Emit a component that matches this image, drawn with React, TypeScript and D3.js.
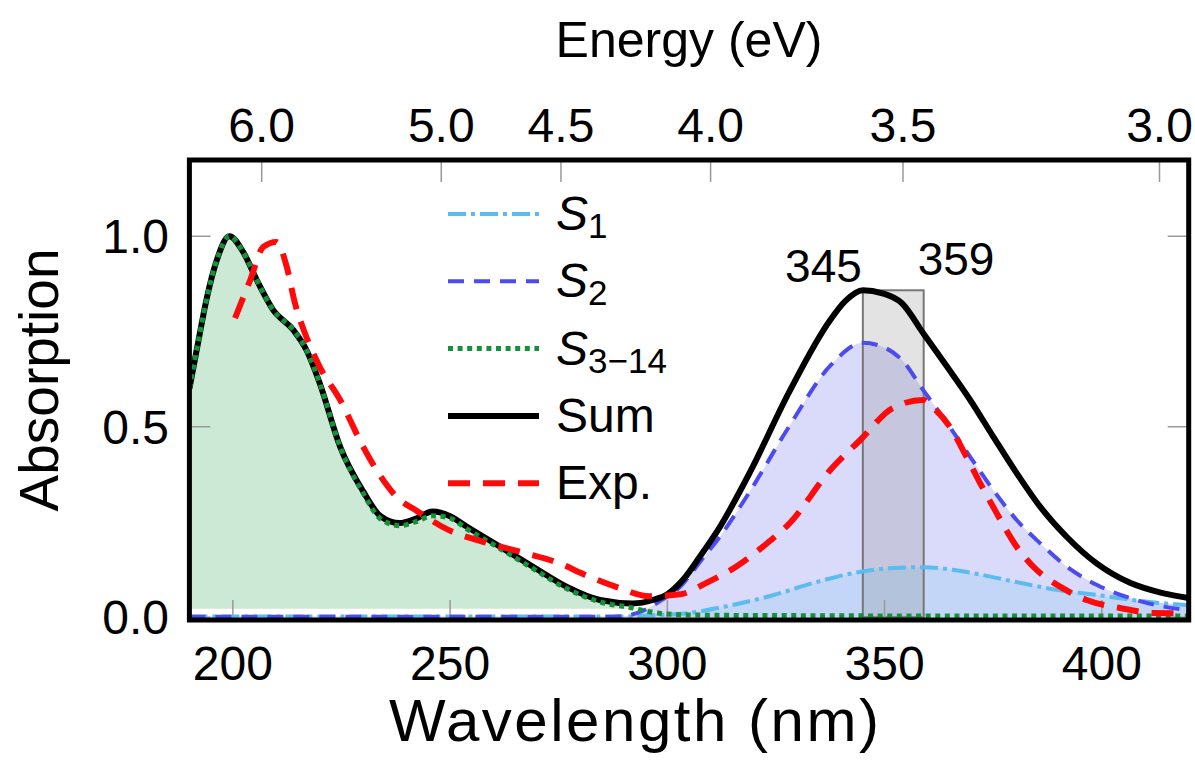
import React from "react";
import * as d3 from "d3";

// ---------- data ----------
const sumWl = [190, 192.4, 193.9, 196.3, 199.2, 202.4, 205.5, 209.3, 213.9, 217, 220, 224.7, 230, 234, 238.4, 242, 246, 250, 253.8, 261.5, 269, 276.8, 284.5, 292, 296.7, 300, 303.6, 307.5, 312, 319, 328, 337.5, 341, 345, 349.5, 354, 358.9, 364.4, 369.7, 375, 380.4, 385.8, 391.9, 398.8, 406.5, 414, 420];
const sumVal = [0.6, 0.745, 0.832, 0.937, 1.0, 0.958, 0.885, 0.806, 0.754, 0.7, 0.614, 0.447, 0.33, 0.265, 0.247, 0.258, 0.277, 0.265, 0.238, 0.185, 0.133, 0.08, 0.045, 0.036, 0.045, 0.06, 0.098, 0.159, 0.235, 0.38, 0.59, 0.78, 0.83, 0.858, 0.85, 0.824, 0.745, 0.657, 0.57, 0.474, 0.378, 0.29, 0.211, 0.141, 0.09, 0.063, 0.05];

const s314Wl = [190, 192.4, 193.9, 196.3, 199.2, 202.4, 205.5, 209.3, 213.9, 217, 220, 224.7, 230, 234, 238.4, 242, 246, 250, 253.8, 261.5, 269, 276.8, 284.5, 292, 296, 300, 310, 330, 360, 420];
const s314Val = [0.6, 0.745, 0.832, 0.937, 1.0, 0.958, 0.885, 0.806, 0.754, 0.7, 0.614, 0.447, 0.325, 0.258, 0.24, 0.25, 0.266, 0.26, 0.232, 0.18, 0.128, 0.075, 0.04, 0.024, 0.014, 0.008, 0.005, 0.004, 0.003, 0.003];

const s2Wl = [190, 250, 285, 290, 294, 298, 303, 307.5, 312, 319, 328, 337.5, 345, 349.5, 354, 358.9, 364.4, 369.7, 375, 380.4, 385.8, 391.9, 398.8, 406.5, 414, 420];
const s2Val = [0.001, 0.001, 0.001, 0.003, 0.015, 0.04, 0.08, 0.145, 0.21, 0.33, 0.5, 0.66, 0.72, 0.71, 0.675, 0.596, 0.509, 0.421, 0.334, 0.255, 0.194, 0.133, 0.085, 0.05, 0.028, 0.019];

const s1Wl = [190, 250, 290, 295, 305, 315, 324.5, 333.7, 343, 352, 359, 366, 372, 380, 390, 399, 410, 420];
const s1Val = [0.002, 0.002, 0.002, 0.004, 0.011, 0.032, 0.058, 0.09, 0.116, 0.129, 0.131, 0.124, 0.112, 0.093, 0.071, 0.058, 0.041, 0.031];

const expWl = [200.5, 204, 207, 210, 212.4, 214.3, 216.6, 220, 224.7, 230, 234, 238.4, 241.5, 249.6, 258.8, 267.3, 275, 281.1, 288.9, 295.8, 303, 309, 315.9, 322, 328.2, 337.5, 344.4, 351.9, 358.9, 361.2, 365, 368.9, 372, 375.8, 380.4, 385, 390.4, 396.5, 404.2, 411.8, 420];
const expVal = [0.785, 0.885, 0.972, 0.985, 0.92, 0.824, 0.745, 0.657, 0.57, 0.447, 0.37, 0.308, 0.285, 0.229, 0.194, 0.168, 0.142, 0.111, 0.077, 0.055, 0.06, 0.09, 0.133, 0.185, 0.247, 0.386, 0.465, 0.549, 0.57, 0.55, 0.5, 0.42, 0.352, 0.273, 0.185, 0.124, 0.08, 0.045, 0.024, 0.011, 0.01];

const xTicks = [200, 250, 300, 350, 400];
const yTicks = [0.0, 0.5, 1.0];
const energyTicks = [6.0, 5.0, 4.5, 4.0, 3.5, 3.0];
const peakMarks = [345, 359];
const peakHeight = 0.858;

const legendItems = [
  { key: "S1", sub: "1", color: "#5cbcee", width: 4, dash: "18 5 4 5" },
  { key: "S2", sub: "2", color: "#4b4bef", width: 4, dash: "16 10" },
  { key: "S3", sub: "3\u221214", color: "#12933a", width: 5, dash: "5 4.6" },
  { key: "Sum", label: "Sum", color: "#000000", width: 6, dash: "" },
  { key: "Exp", label: "Exp.", color: "#ff0a0a", width: 6, dash: "22 13" },
];

const FONT = "'Liberation Sans', Arial, sans-serif";

export default function App() {
  const W = 1195, H = 765;
  const x = d3.scaleLinear().domain([190, 420]).range([189.4, 1188.7]);
  const y = d3.scaleLinear().domain([-0.0075, 1.2]).range([620, 160]);
  const left = x(190), right = x(420), top = y(1.2), bottom = y(-0.0075);

  const pts = (wl: number[], v: number[]) => wl.map((w, i) => [w, v[i]] as [number, number]);
  const line = d3.line<[number, number]>().x(d => x(d[0])).y(d => y(d[1])).curve(d3.curveMonotoneX);
  const areaTo = (base: number) =>
    d3.area<[number, number]>().x(d => x(d[0])).y0(y(base)).y1(d => y(Math.max(d[1], base))).curve(d3.curveMonotoneX);

  const s314 = pts(s314Wl, s314Val);
  const s2 = pts(s2Wl, s2Val);
  const s1 = pts(s1Wl, s1Val);
  const sum = pts(sumWl, sumVal);
  const exp = pts(expWl, expVal);

  const eToWl = (e: number) => 1239.84 / e;

  return (
    <svg width={W} height={H} style={{ position: "absolute", left: 0, top: 0, background: "#fff" }} fontFamily={FONT}>
      <defs>
        <clipPath id="plot">
          <rect x={left} y={top} width={right - left} height={bottom - top} />
        </clipPath>
      </defs>
      <g clipPath="url(#plot)">
        <path d={areaTo(0.022)(s314) || ""} fill="#cce9d6" />
        <path d={areaTo(0)(s2) || ""} fill="#dadafa" />
        <path d={areaTo(0)(s1) || ""} fill="#c3d6f7" />
        <rect x={x(peakMarks[0])} y={y(peakHeight)} width={x(peakMarks[1]) - x(peakMarks[0])} height={y(0) - y(peakHeight)}
          fill="#808080" fillOpacity={0.22} stroke="#777" strokeWidth={2} />
        {/* ticks */}
        {xTicks.map(t => (
          <line key={"bx" + t} x1={x(t)} x2={x(t)} y1={bottom} y2={bottom - 20} stroke="#999" strokeWidth={1.5} />
        ))}
        {energyTicks.map(e => (
          <line key={"tx" + e} x1={x(eToWl(e))} x2={x(eToWl(e))} y1={top} y2={top + 22} stroke="#999" strokeWidth={1.5} />
        ))}
        {yTicks.map(t => (
          <g key={"yt" + t}>
            <line x1={left} x2={left + 21} y1={y(t)} y2={y(t)} stroke="#999" strokeWidth={1.5} />
            <line x1={right - 21} x2={right} y1={y(t)} y2={y(t)} stroke="#999" strokeWidth={1.5} />
          </g>
        ))}
        <path d={line(s1) || ""} fill="none" stroke={legendItems[0].color} strokeWidth={4} strokeDasharray={legendItems[0].dash} />
        <path d={line(s2) || ""} fill="none" stroke={legendItems[1].color} strokeWidth={4} strokeDasharray={legendItems[1].dash} />
        <path d={line(sum) || ""} fill="none" stroke="#000" strokeWidth={6} />
        <path d={line(s314) || ""} fill="none" stroke={legendItems[2].color} strokeWidth={5} strokeDasharray={legendItems[2].dash} />
        <path d={line(exp) || ""} fill="none" stroke={legendItems[4].color} strokeWidth={6} strokeDasharray={legendItems[4].dash} />
      </g>
      {/* peak labels */}
      <text x={x(peakMarks[0]) - 1} y={282} fontSize={46} textAnchor="end">{peakMarks[0]}</text>
      <text x={x(peakMarks[1]) - 6} y={275} fontSize={46} textAnchor="start">{peakMarks[1]}</text>

      {/* legend */}
      {legendItems.map((it, i) => {
        const ly = 214 + i * 67.3;
        return (
          <g key={it.key}>
            <line x1={448} x2={539} y1={ly} y2={ly} stroke={it.color} strokeWidth={it.width} strokeDasharray={it.dash} />
            {it.sub ? (
              <text x={556} y={ly + 16} fontSize={48}>
                <tspan fontStyle="italic">S</tspan>
                <tspan fontSize={35} dy={8}>{it.sub}</tspan>
              </text>
            ) : (
              <text x={556} y={ly + 16} fontSize={48}>{it.label}</text>
            )}
          </g>
        );
      })}

      {/* border */}
      <rect x={left} y={top} width={right - left} height={bottom - top} fill="none" stroke="#000" strokeWidth={5} />

      {/* tick labels */}
      {xTicks.map(t => (
        <text key={"bl" + t} x={x(t)} y={680} fontSize={48} textAnchor="middle">{t}</text>
      ))}
      {energyTicks.map(e => (
        <text key={"tl" + e} x={x(eToWl(e))} y={142} fontSize={48} textAnchor="middle">{e.toFixed(1)}</text>
      ))}
      {yTicks.map(t => (
        <text key={"yl" + t} x={169} y={y(t) + 17} fontSize={48} textAnchor="end">{t.toFixed(1)}</text>
      ))}

      {/* axis titles */}
      <text x={689} y={57} fontSize={50} textAnchor="middle">Energy (eV)</text>
      <text x={634} y={741} fontSize={60} textAnchor="middle" textLength={490} lengthAdjust="spacing">Wavelength (nm)</text>
      <text transform={`translate(58, ${(top + bottom) / 2 - 10}) rotate(-90)`} fontSize={55} textAnchor="middle">Absorption</text>
    </svg>
  );
}
